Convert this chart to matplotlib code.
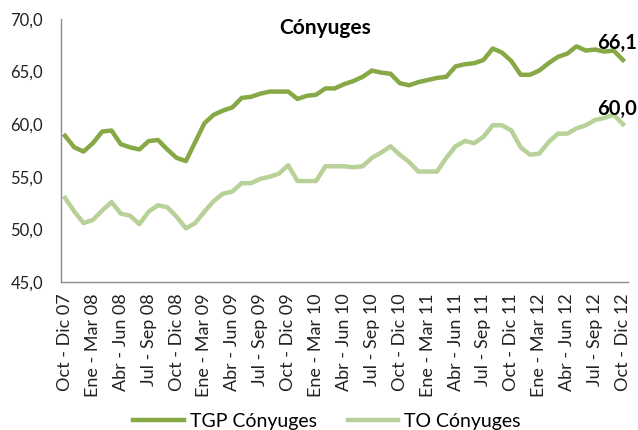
import matplotlib
matplotlib.use("Agg")
import matplotlib.pyplot as plt

plt.rcParams['font.family'] = ['Lato', 'DejaVu Sans']

# ---- data ----
tgp = [58.9, 57.8, 57.4, 58.2, 59.3, 59.4, 58.1, 57.8, 57.6, 58.4,
       58.5, 57.6, 56.8, 56.5, 58.3, 60.1, 60.9, 61.3, 61.6, 62.5,
       62.6, 62.9, 63.1, 63.1, 63.1, 62.4, 62.7, 62.8, 63.4, 63.4,
       63.8, 64.1, 64.5, 65.1, 64.9, 64.8, 63.9, 63.7, 64.0, 64.2,
       64.4, 64.5, 65.5, 65.7, 65.8, 66.1, 67.2, 66.8, 66.0, 64.7,
       64.7, 65.1, 65.8, 66.4, 66.7, 67.4, 67.0, 67.1, 66.9, 67.0,
       66.1]
to = [53.0, 51.7, 50.6, 50.9, 51.8, 52.6, 51.5, 51.3, 50.5, 51.7,
      52.3, 52.1, 51.2, 50.1, 50.6, 51.7, 52.7, 53.4, 53.6, 54.4,
      54.4, 54.8, 55.0, 55.3, 56.1, 54.6, 54.6, 54.6, 56.0, 56.0,
      56.0, 55.9, 56.0, 56.8, 57.3, 57.9, 57.1, 56.4, 55.5, 55.5,
      55.5, 56.8, 57.9, 58.4, 58.2, 58.8, 59.9, 59.9, 59.4, 57.8,
      57.1, 57.2, 58.3, 59.1, 59.1, 59.6, 59.9, 60.4, 60.6, 60.9,
      60.0]
tick_labels = ["Oct - Dic 07", "Ene - Mar 08", "Abr - Jun 08", "Jul - Sep 08",
               "Oct - Dic 08", "Ene - Mar 09", "Abr - Jun 09", "Jul - Sep 09",
               "Oct - Dic 09", "Ene - Mar 10", "Abr - Jun 10", "Jul - Sep 10",
               "Oct - Dic 10", "Ene - Mar 11", "Abr - Jun 11", "Jul - Sep 11",
               "Oct - Dic 11", "Ene - Mar 12", "Abr - Jun 12", "Jul - Sep 12",
               "Oct - Dic 12"]
series_names = ["TGP Cónyuges", "TO Cónyuges"]
title = "Cónyuges"

c_tgp = '#86A845'
c_to = '#B7D198'

fig = plt.figure(figsize=(6.38, 4.30), dpi=100)
ax = fig.add_axes([61/638, 1-282/430, (628-61)/638, (282-19)/430])

x = list(range(len(tgp)))
l1, = ax.plot(x, tgp, color=c_tgp, lw=3.2, solid_joinstyle='round', label=series_names[0])
l2, = ax.plot(x, to, color=c_to, lw=3.2, solid_joinstyle='round', label=series_names[1])

ax.set_xlim(-0.43, 60.54)
ax.set_ylim(45, 70)
ax.set_yticks([45, 50, 55, 60, 65, 70])
ax.set_yticklabels([f"{v:.1f}".replace('.', ',') for v in [45, 50, 55, 60, 65, 70]])
ax.set_xticks(list(range(0, len(tgp), 3)))
ax.set_xticklabels(tick_labels, rotation=90)

for s in ['top', 'right']:
    ax.spines[s].set_visible(False)
for s in ['left', 'bottom']:
    ax.spines[s].set_color('#8C8C8C')
    ax.spines[s].set_linewidth(1.0)
ax.tick_params(axis='y', length=0, pad=13, labelsize=12, labelcolor='#222222')
ax.tick_params(axis='x', length=0, pad=8, labelsize=13, labelcolor='#222222')

ax.annotate(f"{tgp[-1]:.1f}".replace('.', ','), xy=(60, tgp[-1]), xytext=(-4, 12),
            textcoords='offset points', ha='center', va='center',
            fontsize=14.5, fontweight='bold', color='black')
ax.annotate(f"{to[-1]:.1f}".replace('.', ','), xy=(60, to[-1]), xytext=(-4, 11),
            textcoords='offset points', ha='center', va='center',
            fontsize=14.5, fontweight='bold', color='black')

fig.text(325/638, 1-28/430, title, ha='center', va='center',
         fontsize=15, fontweight='bold', color='black')

fig.legend(handles=[l1, l2], loc='center', bbox_to_anchor=(327/638, 1-421/430),
           ncol=2, frameon=False, fontsize=14, handlelength=2.6,
           handletextpad=0.3, columnspacing=1.6)

fig.savefig('out.png', dpi=100)
